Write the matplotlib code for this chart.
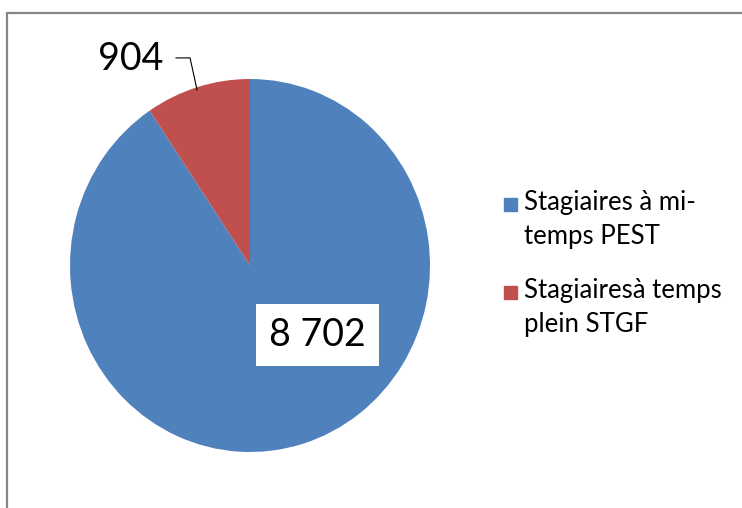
import matplotlib
matplotlib.use("Agg")
import matplotlib.pyplot as plt
from matplotlib.patches import Rectangle

# --- DATA ---
labels = ["Stagiaires à mi-\ntemps PEST", "Stagiairesà temps\nplein STGF"]
values = [8702, 904]
colors = ["#4f81bd", "#c0504d"]

plt.rcParams["font.family"] = ["Lato", "DejaVu Sans"]

W, H = 742, 508
fig = plt.figure(figsize=(W / 100, H / 100), dpi=100)

# grey chart frame (runs off the right and bottom edges)
fig.patches.append(Rectangle((7 / W, -0.1), 1.2, 1 - 13 / H + 0.1,
                             transform=fig.transFigure, fill=False,
                             edgecolor="#868686", linewidth=1.6))

# pie axes sized to the (slightly oval) pie in the picture
cx, cy, rx, ry = 250, 265.5, 180, 186.5
ax = fig.add_axes([(cx - rx) / W, 1 - (cy + ry) / H, 2 * rx / W, 2 * ry / H])
wedges, _ = ax.pie(values, colors=colors, startangle=90, counterclock=False,
                   radius=1)
ax.set_aspect("auto")
ax.set_xlim(-1, 1)
ax.set_ylim(-1, 1)
ax.axis("off")

def fmt(v):
    return f"{v:,}".replace(",", " ")

# data labels
ax.text(0.375, -0.373, fmt(values[0]), fontsize=27, ha="center", va="center",
        bbox=dict(boxstyle="square,pad=0.35", fc="white", ec="none"))
ax.text(-0.661, 1.107, fmt(values[1]), fontsize=27, ha="center", va="center")
ax.plot([-0.411, -0.333, -0.294], [1.113, 1.113, 0.941], color="black",
        lw=0.8, clip_on=False)

# legend, laid out by hand so the square sits on the first line
for i, (lab, col) in enumerate(zip(labels, colors)):
    top = 190 + i * 88
    fig.patches.append(Rectangle((504 / W, 1 - (top + 21) / H), 13 / W, 13 / H,
                                 transform=fig.transFigure, color=col))
    fig.text(524 / W, 1 - top / H, lab, fontsize=18.5, va="top", ha="left",
             linespacing=1.45)

fig.savefig("out.png", dpi=100)
